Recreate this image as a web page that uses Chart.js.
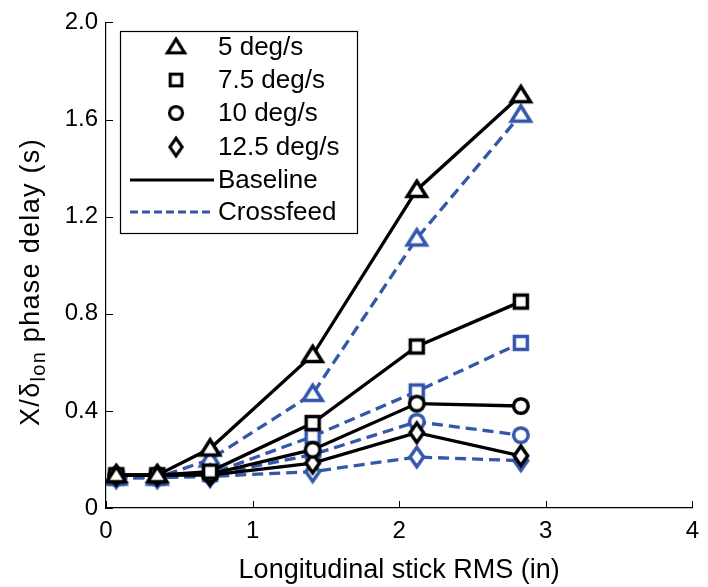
<!DOCTYPE html>
<html>
<head>
<meta charset="utf-8">
<script src="https://cdn.jsdelivr.net/npm/chart.js@4.4.0/dist/chart.umd.min.js"></script>
<style>
  html, body { margin: 0; padding: 0; background: #fff; }
  #wrap { width: 708px; height: 587px; }
</style>
</head>
<body>
<div id="wrap"><canvas id="chart" width="708" height="587"></canvas></div>
<script>
// stick RMS (in) at each run
const stickRms = [0.07, 0.35, 0.71, 1.41, 2.12, 2.83];

const rateLabels = ['5 deg/s', '7.5 deg/s', '10 deg/s', '12.5 deg/s'];
const configLabels = ['Baseline', 'Crossfeed'];

// phase delay (s), baseline
const base5 = [0.135, 0.135, 0.245, 0.63, 1.31, 1.70];
const base75 = [0.135, 0.135, 0.15, 0.35, 0.665, 0.85];
const base10 = [0.135, 0.135, 0.14, 0.24, 0.43, 0.42];
const base125 = [0.135, 0.135, 0.135, 0.185, 0.31, 0.215];

// phase delay (s), crossfeed
const cross5 = [0.125, 0.125, 0.20, 0.47, 1.11, 1.62];
const cross75 = [0.125, 0.125, 0.14, 0.295, 0.48, 0.68];
const cross10 = [0.125, 0.125, 0.135, 0.22, 0.355, 0.30];
const cross125 = [0.125, 0.125, 0.13, 0.15, 0.21, 0.195];

const xTicks = [0, 1, 2, 3, 4];
const xTickLabels = ['0', '1', '2', '3', '4'];
const yTicks = [0, 0.4, 0.8, 1.2, 1.6, 2.0];
const yTickLabels = ['0', '0.4', '0.8', '1.2', '1.6', '2.0'];

const BLUE = '#3457a9';
const FONT = '"Liberation Sans", Arial, sans-serif';

// matlab-ish open markers
function makeMarker(shape, color) {
  const c = document.createElement('canvas');
  c.width = 32; c.height = 32;
  const ctx = c.getContext('2d');
  const cx = 16, cy = 16;
  ctx.beginPath();
  if (shape === 'tri') {
    ctx.moveTo(cx, cy - 8.8);
    ctx.lineTo(cx + 9.6, cy + 6.6);
    ctx.lineTo(cx - 9.6, cy + 6.6);
    ctx.closePath();
  } else if (shape === 'sq') {
    ctx.rect(cx - 6.5, cy - 6.5, 13, 13);
  } else if (shape === 'circ') {
    ctx.arc(cx, cy, 7.3, 0, Math.PI * 2);
  } else {
    ctx.moveTo(cx, cy - 9.8);
    ctx.lineTo(cx + 6.8, cy);
    ctx.lineTo(cx, cy + 9.8);
    ctx.lineTo(cx - 6.8, cy);
    ctx.closePath();
  }
  ctx.fillStyle = '#fff';
  ctx.fill();
  ctx.lineWidth = 3.5;
  ctx.strokeStyle = color;
  ctx.stroke();
  return c;
}

const shapes = ['tri', 'sq', 'circ', 'dia'];
const blackMarks = shapes.map(s => makeMarker(s, '#000'));
const blueMarks = shapes.map(s => makeMarker(s, BLUE));

function pts(ys) {
  return stickRms.map((x, i) => ({ x: x, y: ys[i] }));
}

const baseSeries = [base5, base75, base10, base125];
const crossSeries = [cross5, cross75, cross10, cross125];

const datasets = [];
baseSeries.forEach((s, i) => {
  datasets.push({
    label: configLabels[0] + ' ' + rateLabels[i],
    data: pts(s),
    borderColor: '#000',
    borderWidth: 3.3,
    pointStyle: blackMarks[i],
    pointRadius: 10,
    fill: false,
    tension: 0
  });
});
crossSeries.forEach((s, i) => {
  datasets.push({
    label: configLabels[1] + ' ' + rateLabels[i],
    data: pts(s),
    borderColor: BLUE,
    borderWidth: 3.3,
    borderDash: [11, 6],
    pointStyle: blueMarks[i],
    pointRadius: 10,
    fill: false,
    tension: 0
  });
});

// ticks pointing into the plot
const innerTicks = {
  id: 'innerTicks',
  afterDatasetsDraw(chart) {
    const ctx = chart.ctx;
    const xs = chart.scales.x, ys = chart.scales.y;
    const a = chart.chartArea;
    ctx.save();
    ctx.strokeStyle = '#000';
    ctx.lineWidth = 1;
    ctx.beginPath();
    xTicks.forEach(v => {
      const px = Math.round(xs.getPixelForValue(v)) + 0.5;
      ctx.moveTo(px, a.bottom);
      ctx.lineTo(px, a.bottom - 7);
    });
    yTicks.forEach(v => {
      const py = Math.round(ys.getPixelForValue(v)) + 0.5;
      ctx.moveTo(a.left, py);
      ctx.lineTo(a.left + 7, py);
    });
    ctx.stroke();
    ctx.restore();
  }
};

// legend box in the upper left
const boxLegend = {
  id: 'boxLegend',
  afterDatasetsDraw(chart) {
    const ctx = chart.ctx;
    const x0 = 120, y0 = 31, x1 = 357, y1 = 233;
    const rowY = [47, 80, 113, 147, 180, 212];
    ctx.save();
    ctx.fillStyle = '#fff';
    ctx.fillRect(x0, y0, x1 - x0, y1 - y0);
    ctx.strokeStyle = '#000';
    ctx.lineWidth = 1.2;
    ctx.strokeRect(x0 + 0.5, y0 + 0.5, x1 - x0, y1 - y0);
    ctx.font = '26px ' + FONT;
    ctx.fillStyle = '#000';
    ctx.textBaseline = 'middle';
    ctx.textAlign = 'left';
    rateLabels.forEach((t, i) => {
      const m = blackMarks[i];
      const sc = 0.9;
      ctx.drawImage(m, 176 - 16 * sc, rowY[i] - 16 * sc, 32 * sc, 32 * sc);
      ctx.fillText(t, 218, rowY[i] + 1);
    });
    ctx.lineWidth = 3;
    ctx.strokeStyle = '#000';
    ctx.beginPath();
    ctx.moveTo(130, rowY[4]);
    ctx.lineTo(214, rowY[4]);
    ctx.stroke();
    ctx.strokeStyle = BLUE;
    ctx.setLineDash([8, 4]);
    ctx.beginPath();
    ctx.moveTo(130, rowY[5]);
    ctx.lineTo(214, rowY[5]);
    ctx.stroke();
    ctx.setLineDash([]);
    ctx.fillText(configLabels[0], 218, rowY[4] + 1);
    ctx.fillText(configLabels[1], 218, rowY[5] + 1);
    ctx.restore();
  }
};

// y title with the subscript
const yTitle = {
  id: 'yTitle',
  afterDraw(chart) {
    const ctx = chart.ctx;
    const parts = [
      { t: 'X/\u03b4', size: 27, dy: 0 },
      { t: 'lon', size: 20, dy: 6 },
      { t: ' phase delay (s)', size: 27, dy: 0 }
    ];
    ctx.save();
    ctx.letterSpacing = '1.3px';
    let total = 0;
    parts.forEach(p => {
      ctx.font = p.size + 'px ' + FONT;
      p.w = ctx.measureText(p.t).width;
      total += p.w;
    });
    ctx.translate(39, 282);
    ctx.rotate(-Math.PI / 2);
    ctx.fillStyle = '#000';
    ctx.textBaseline = 'alphabetic';
    ctx.textAlign = 'left';
    let x = -total / 2;
    parts.forEach(p => {
      ctx.font = p.size + 'px ' + FONT;
      ctx.fillText(p.t, x, p.dy);
      x += p.w;
    });
    ctx.restore();
  }
};

new Chart(document.getElementById('chart'), {
  type: 'line',
  data: { datasets: datasets },
  options: {
    responsive: false,
    animation: false,
    layout: { padding: { left: 0, right: 8, top: 20, bottom: 0 } },
    plugins: {
      legend: { display: false },
      tooltip: { enabled: false }
    },
    scales: {
      x: {
        type: 'linear',
        min: 0,
        max: 4,
        afterBuildTicks: s => { s.ticks = xTicks.map(v => ({ value: v })); },
        afterFit: s => { s.height = 79; },
        grid: { display: false, drawTicks: false },
        border: { display: true, color: '#000', width: 1.2 },
        ticks: {
          padding: 9,
          color: '#000',
          font: { family: FONT, size: 24 },
          callback: (v, i) => xTickLabels[i]
        },
        title: {
          display: true,
          text: 'Longitudinal stick RMS (in)',
          color: '#000',
          font: { family: FONT, size: 27 },
          padding: { top: 0, bottom: 0 }
        }
      },
      y: {
        type: 'linear',
        min: 0,
        max: 2,
        afterBuildTicks: s => { s.ticks = yTicks.map(v => ({ value: v })); },
        afterFit: s => { s.width = 106; },
        grid: { display: false, drawTicks: false },
        border: { display: true, color: '#000', width: 1.2 },
        ticks: {
          padding: 8,
          color: '#000',
          font: { family: FONT, size: 24 },
          callback: (v, i) => yTickLabels[i]
        }
      }
    }
  },
  plugins: [innerTicks, boxLegend, yTitle]
});
</script>
</body>
</html>
